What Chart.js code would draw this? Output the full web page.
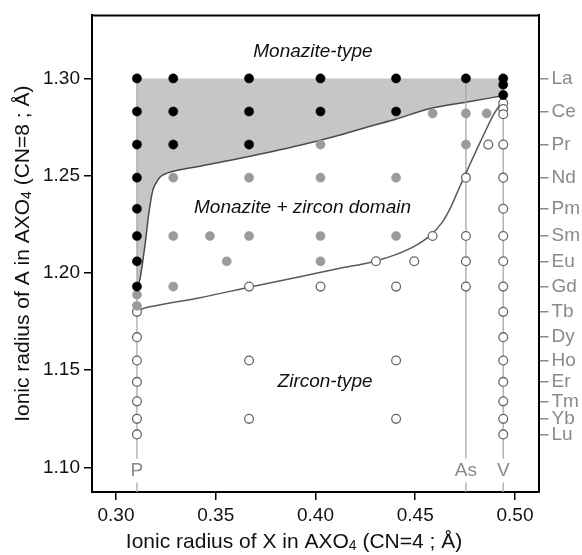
<!DOCTYPE html>
<html>
<head>
<meta charset="utf-8">
<script src="https://cdn.jsdelivr.net/npm/chart.js@4/dist/chart.umd.min.js"></script>
<style>
  html, body { margin: 0; padding: 0; background: #fff; }
  canvas { display: block; }
</style>
</head>
<body>
<canvas id="chart" width="582" height="555"></canvas>
<script>
// ==============================
// Data
// ==============================
const xTicks = [0.30, 0.35, 0.40, 0.45, 0.50];
const yTicks = [1.10, 1.15, 1.20, 1.25, 1.30];

// A cations (CN=8) shown on the right axis
const reeNames = ["La", "Ce", "Pr", "Nd", "Pm", "Sm", "Eu", "Gd", "Tb", "Dy", "Ho", "Er", "Tm", "Yb", "Lu"];
const reeRadius = [1.300, 1.283, 1.266, 1.249, 1.233, 1.219, 1.206, 1.193, 1.180, 1.167, 1.155, 1.144, 1.134, 1.125, 1.117];

// X cations (CN=4)
const xNames = ["P", "As", "V"];
const xRadius = [0.3105, 0.4754, 0.4941];

// monazite-type compounds (black)
const monaziteX = [0.3105, 0.3105, 0.3105, 0.3105, 0.3105, 0.3105, 0.3105, 0.3105,
  0.3287, 0.3287, 0.3287, 0.3667, 0.3667, 0.3667, 0.4025, 0.4025, 0.4404, 0.4404,
  0.4754, 0.4941, 0.4941, 0.4941];
const monaziteY = [1.300, 1.283, 1.266, 1.249, 1.233, 1.219, 1.206, 1.193,
  1.300, 1.283, 1.266, 1.300, 1.283, 1.266, 1.300, 1.283, 1.300, 1.283,
  1.300, 1.300, 1.2968, 1.2915];

// monazite + zircon (grey)
const mixedX = [0.3105, 0.3105, 0.4587, 0.4754, 0.4858, 0.4025, 0.4754,
  0.3287, 0.3667, 0.4025, 0.4404, 0.3287, 0.3471, 0.3667, 0.4025, 0.4404,
  0.3555, 0.4025, 0.3287];
const mixedY = [1.1888, 1.1831, 1.282, 1.282, 1.282, 1.266, 1.266,
  1.249, 1.249, 1.249, 1.249, 1.219, 1.219, 1.219, 1.219, 1.219,
  1.206, 1.206, 1.193];

// zircon-type compounds (open)
const zirconX = [0.4941, 0.4941, 0.4941, 0.4941, 0.4941, 0.4941, 0.4941, 0.4941,
  0.4941, 0.4941, 0.4941, 0.4941, 0.4941, 0.4941, 0.4941, 0.4941,
  0.4754, 0.4754, 0.4754, 0.4754, 0.4866, 0.4587, 0.4303, 0.4495,
  0.3667, 0.4025, 0.4404, 0.3667, 0.4404, 0.3667, 0.4404,
  0.3105, 0.3105, 0.3105, 0.3105, 0.3105, 0.3105, 0.3105];
const zirconY = [1.2873, 1.2843, 1.2816, 1.266, 1.249, 1.233, 1.219, 1.206,
  1.193, 1.180, 1.167, 1.155, 1.144, 1.134, 1.125, 1.117,
  1.249, 1.219, 1.206, 1.193, 1.266, 1.219, 1.206, 1.206,
  1.193, 1.193, 1.193, 1.155, 1.155, 1.125, 1.125,
  1.180, 1.167, 1.155, 1.144, 1.134, 1.125, 1.117];

// lower limit of the monazite-type field
const monaziteLimitX = [0.3105, 0.3120, 0.3145, 0.3165, 0.3185, 0.3201, 0.3221, 0.3256,
  0.3421, 0.3672, 0.3922, 0.4123, 0.4273, 0.4398, 0.4574, 0.4754, 0.4940];
const monaziteLimitY = [1.1917, 1.1968, 1.2141, 1.2310, 1.2427, 1.2462, 1.2493, 1.2513,
  1.2549, 1.2600, 1.2656, 1.2709, 1.2754, 1.2789, 1.2845, 1.2878, 1.2911];

// upper limit of the zircon-type field
const zirconLimitX = [0.3107, 0.3170, 0.3421, 0.3667, 0.3922, 0.4123, 0.4288, 0.4409,
  0.4499, 0.4574, 0.4634, 0.4679, 0.4714, 0.4754, 0.4825, 0.4890, 0.4940];
const zirconLimitY = [1.1809, 1.1826, 1.1873, 1.1927, 1.1981, 1.2024, 1.2058, 1.2097,
  1.2139, 1.2192, 1.2259, 1.2340, 1.2422, 1.2513, 1.2671, 1.2809, 1.2890];

// ==============================
// Layout constants
// ==============================
const X_MIN = 0.28797, X_MAX = 0.51178;
const Y_MIN = 1.0874, Y_MAX = 1.3324;
const FONT = '"Liberation Sans", Arial, Helvetica, sans-serif';
const GREY_TEXT = "#8a8a8a";

// field names, placed in data units
const fieldLabels = [
  { text: "Monazite-type", x: 0.3987, y: 1.3135 },
  { text: "Monazite + zircon domain", x: 0.3935, y: 1.2335 },
  { text: "Zircon-type", x: 0.4048, y: 1.1443 }
];

function pairs(xs, ys) {
  return xs.map((x, i) => ({ x: x, y: ys[i] }));
}

// vertical guide for each X cation, broken where its name sits
function cationLines() {
  const pts = [];
  xRadius.forEach((x) => {
    pts.push({ x: x, y: 1.300 }, { x: x, y: 1.1045 }, { x: x, y: null });
    pts.push({ x: x, y: 1.0923 }, { x: x, y: Y_MIN }, { x: x, y: null });
  });
  return pts;
}

// draws a line of text with a subscript part, centred on (cx, cy)
function drawSubText(ctx, parts, cx, cy, size) {
  const subSize = Math.round(size * 0.68);
  let total = 0;
  parts.forEach((p) => {
    ctx.font = (p.sub ? subSize : size) + "px " + FONT;
    total += ctx.measureText(p.t).width;
  });
  let x = cx - total / 2;
  ctx.textAlign = "left";
  ctx.textBaseline = "alphabetic";
  parts.forEach((p) => {
    ctx.font = (p.sub ? subSize : size) + "px " + FONT;
    ctx.fillText(p.t, x, cy + (p.sub ? size * 0.42 : size * 0.35));
    x += ctx.measureText(p.t).width;
  });
}

// ==============================
// Extra drawing: frame, labels, axis titles
// ==============================
const overlayPlugin = {
  id: "overlay",
  afterDatasetsDraw(chart) {
    const { ctx, chartArea: a, scales } = chart;
    const xs = scales.x, ys = scales.y;
    ctx.save();

    // top edge of the frame
    ctx.strokeStyle = "#000";
    ctx.lineWidth = 2;
    ctx.beginPath();
    ctx.moveTo(a.left - 1, a.top);
    ctx.lineTo(a.right + 1, a.top);
    ctx.stroke();

    // field names
    ctx.fillStyle = "#111";
    ctx.font = "italic 19px " + FONT;
    ctx.textAlign = "center";
    ctx.textBaseline = "middle";
    fieldLabels.forEach((l) => {
      ctx.fillText(l.text, xs.getPixelForValue(l.x), ys.getPixelForValue(l.y));
    });

    // X cation names at the foot of their guides
    ctx.fillStyle = GREY_TEXT;
    ctx.font = "19px " + FONT;
    xNames.forEach((n, i) => {
      ctx.fillText(n, xs.getPixelForValue(xRadius[i]), ys.getPixelForValue(1.0985));
    });

    // axis titles
    ctx.fillStyle = "#111";
    drawSubText(ctx, [
      { t: "Ionic radius of X in AXO" }, { t: "4", sub: true }, { t: " (CN=4 ; Å)" }
    ], 294, 541, 21);

    ctx.save();
    ctx.translate(22, (a.top + a.bottom) / 2);
    ctx.rotate(-Math.PI / 2);
    drawSubText(ctx, [
      { t: "Ionic radius of A in AXO" }, { t: "4", sub: true }, { t: " (CN=8 ; Å)" }
    ], 0, 0, 21);
    ctx.restore();

    ctx.restore();
  }
};

// ==============================
// Chart
// ==============================
Chart.defaults.font.family = FONT;
Chart.defaults.font.size = 19;
Chart.defaults.color = "#111";

const ctx = document.getElementById("chart").getContext("2d");
new Chart(ctx, {
  type: "scatter",
  data: {
    datasets: [
      {
        label: "Monazite-type",
        data: pairs(monaziteX, monaziteY),
        pointRadius: 4.6,
        pointBackgroundColor: "#000",
        pointBorderColor: "#000",
        pointBorderWidth: 0.5
      },
      {
        label: "Monazite + zircon",
        data: pairs(mixedX, mixedY),
        pointRadius: 4.6,
        pointBackgroundColor: "#9b9b9b",
        pointBorderColor: "#9b9b9b",
        pointBorderWidth: 0.5
      },
      {
        label: "Zircon-type",
        data: pairs(zirconX, zirconY),
        pointRadius: 4.4,
        pointBackgroundColor: "#fff",
        pointBorderColor: "#666",
        pointBorderWidth: 1.3
      },
      {
        label: "zircon limit",
        data: pairs(zirconLimitX, zirconLimitY),
        showLine: true,
        pointRadius: 0,
        borderColor: "#5a5a5a",
        borderWidth: 1.5,
        cubicInterpolationMode: "monotone",
        fill: false
      },
      {
        label: "cations",
        data: cationLines(),
        showLine: true,
        spanGaps: false,
        pointRadius: 0,
        borderColor: "#a8a8a8",
        borderWidth: 1.3,
        fill: false
      },
      {
        label: "monazite limit",
        data: pairs(monaziteLimitX, monaziteLimitY),
        showLine: true,
        pointRadius: 0,
        borderColor: "#4a4a4a",
        borderWidth: 1.5,
        backgroundColor: "#c6c6c6",
        cubicInterpolationMode: "monotone",
        fill: { value: 1.300 }
      }
    ]
  },
  options: {
    responsive: false,
    animation: false,
    layout: { padding: { top: 11, left: 0, right: 0, bottom: 0 } },
    plugins: {
      legend: { display: false },
      tooltip: { enabled: false },
      filler: { drawTime: "beforeDatasetsDraw" }
    },
    scales: {
      x: {
        type: "linear",
        min: X_MIN,
        max: X_MAX,
        afterBuildTicks: (scale) => { scale.ticks = xTicks.map((v) => ({ value: v })); },
        afterFit: (scale) => { scale.height = 63; },
        ticks: {
          color: "#111",
          padding: 4,
          callback: (v) => Number(v).toFixed(2)
        },
        grid: { display: true, drawOnChartArea: false, drawTicks: true, tickLength: 8, color: "#000", lineWidth: 1.5 },
        border: { display: true, color: "#000", width: 2 }
      },
      y: {
        type: "linear",
        position: "left",
        min: Y_MIN,
        max: Y_MAX,
        afterBuildTicks: (scale) => { scale.ticks = yTicks.map((v) => ({ value: v })); },
        afterFit: (scale) => { scale.width = 92; },
        ticks: {
          color: "#111",
          padding: 4,
          callback: (v) => Number(v).toFixed(2)
        },
        grid: { display: true, drawOnChartArea: false, drawTicks: true, tickLength: 8, color: "#000", lineWidth: 1.5 },
        border: { display: true, color: "#000", width: 2 }
      },
      y2: {
        type: "linear",
        position: "right",
        min: Y_MIN,
        max: Y_MAX,
        afterBuildTicks: (scale) => { scale.ticks = reeRadius.map((v) => ({ value: v })); },
        afterFit: (scale) => { scale.width = 43.5; },
        ticks: {
          color: GREY_TEXT,
          padding: 3,
          autoSkip: false,
          callback: (v, i) => reeNames[i]
        },
        grid: { display: true, drawOnChartArea: false, drawTicks: true, tickLength: 10, color: GREY_TEXT, lineWidth: 1.5 },
        border: { display: true, color: "#000", width: 2 }
      }
    }
  },
  plugins: [overlayPlugin]
});
</script>
</body>
</html>
